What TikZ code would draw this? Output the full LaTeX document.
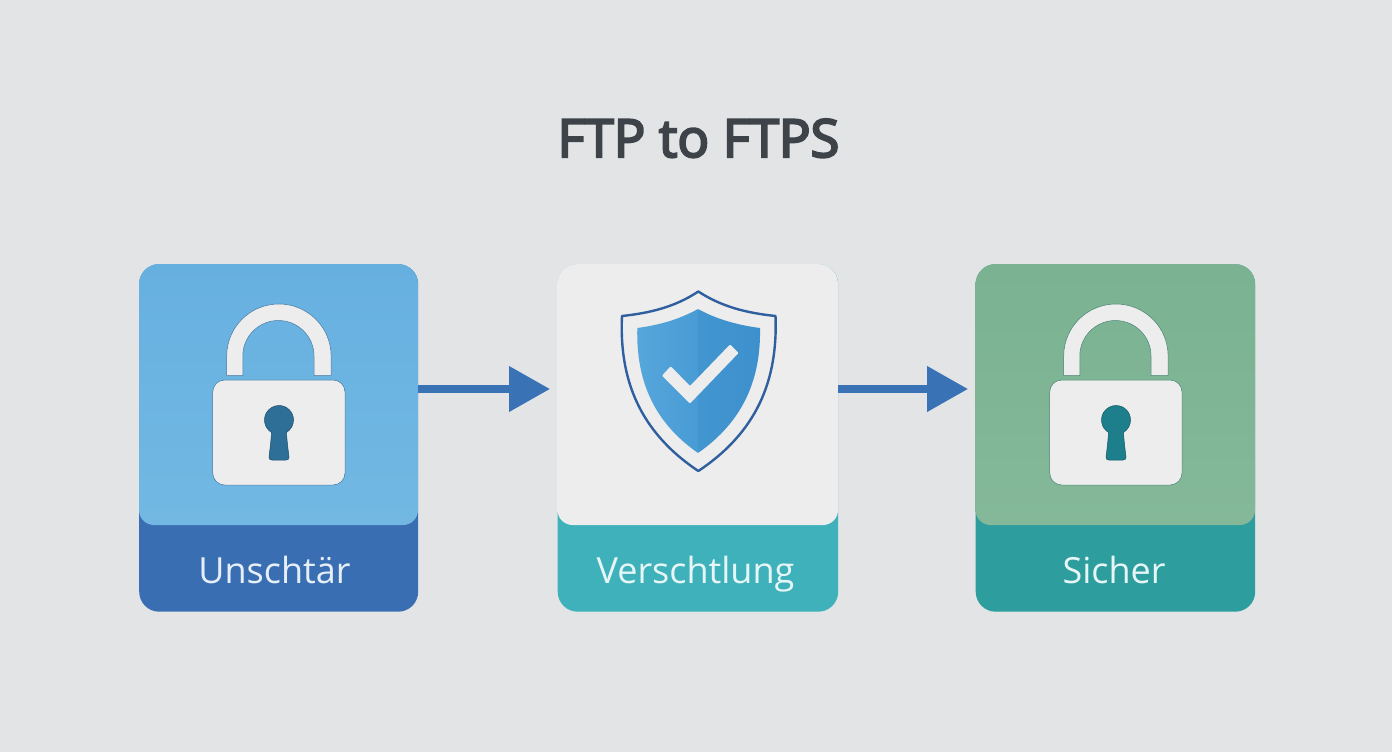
\documentclass[tikz,border=0pt]{standalone}
\usepackage{fontspec}
\setmainfont{Open Sans}
\usetikzlibrary{arrows.meta}
\definecolor{bgc}{HTML}{E3E4E5}
\definecolor{titlec}{HTML}{3D4349}
\definecolor{pale}{HTML}{EDEDEE}
\definecolor{arrowc}{HTML}{3A72B6}
\definecolor{shieldline}{HTML}{2F5F9E}
\definecolor{lowA}{HTML}{3A6EB2}
\definecolor{lowB}{HTML}{3EB1BB}
\definecolor{lowC}{HTML}{2D9D9E}
\definecolor{topAa}{HTML}{66B0E0}
\definecolor{topAb}{HTML}{72B8E3}
\definecolor{topCa}{HTML}{7AB292}
\definecolor{topCb}{HTML}{84B898}
\definecolor{keyA}{HTML}{2D6F97}
\definecolor{keyAl}{HTML}{4678A0}
\definecolor{keyC}{HTML}{1D7E8C}
\definecolor{keyCl}{HTML}{468273}
\definecolor{shLa}{HTML}{58A8DD}
\definecolor{shLb}{HTML}{489BD4}
\definecolor{shRa}{HTML}{4296D0}
\definecolor{shRb}{HTML}{3C8FCB}
\definecolor{txtA}{HTML}{E6EEF8}
\definecolor{txtB}{HTML}{E6F6F6}
\tikzset{
  cardbase/.style={minimum width=#1,minimum height=347.5pt,inner sep=0pt,rounded corners=20pt,anchor=north west},
  cardtext/.style={font=\fontsize{36}{40}\selectfont,anchor=base,inner sep=0pt,text=#1},
  flow/.style={draw=arrowc,line width=7.5pt,-{Triangle[length=41pt,width=44pt]},shorten >=7.5pt},
}
\newcommand{\toppanel}[5]{%
  \shade[top color=#4,bottom color=#5,rounded corners=20pt]
    (#1,264) -- (#2,264) [rounded corners=15pt] -- (#2,#3) -- (#1,#3) [rounded corners=20pt] -- cycle;}
\newcommand{\padlock}[3]{%
  \begin{scope}[shift={(#1,0)}]
    \filldraw[fill=pale,draw=#3,line width=.5pt,line join=round]
      (226.7,375.5) -- (226.7,356) arc[start angle=180,end angle=360,x radius=52.2,y radius=52]
      -- (331.1,375.5) -- (314,375.5) -- (314,356) arc[start angle=360,end angle=180,x radius=35.6,y radius=35.5]
      -- (242.8,375.5) -- cycle;
    \filldraw[fill=pale,draw=#3,line width=.5pt,rounded corners=12pt] (212.7,380) rectangle (345,485);
    \filldraw[fill=#2,draw=#2!70!black,line width=.5pt]
      (279,405.5) arc[start angle=-90,end angle=59,radius=14.5]
      .. controls (287,441) and (288,449) .. (289,457)
      .. controls (289.2,459) and (288,460) .. (286,460) -- (272,460)
      .. controls (270,460) and (268.8,459) .. (269,457)
      .. controls (270,449) and (271,441) .. (271.53,432.43)
      arc[start angle=121,end angle=270,radius=14.5] -- cycle;
  \end{scope}}
\begin{document}
\begin{tikzpicture}[x=1pt,y=-1pt]
\useasboundingbox (0,0) rectangle (1392,752);
\fill[bgc] (0,0) rectangle (1392,752);
\node[font=\fontsize{52.5}{56}\selectfont,text=titlec,anchor=base,inner sep=0pt] (title) at (698.5,157) {\special{pdf:code 2 Tr 2.2 w 0.239 0.263 0.286 RG}FTP to FTPS\special{pdf:code 0 Tr}};
\coordinate (flowy) at (0,389);
% cards
\node[cardbase=279pt,fill=lowA] (c1) at (139,264) {};
\node[cardbase=280.5pt,fill=lowB] (c2) at (557.5,264) {};
\node[cardbase=279.5pt,fill=lowC] (c3) at (975.5,264) {};
\toppanel{139}{418}{525}{topAa}{topAb}
\toppanel{557.5}{838}{525}{pale}{pale}
\toppanel{975.5}{1255}{525}{topCa}{topCb}
% locks
\padlock{0}{keyA}{keyAl}
\padlock{837}{keyC}{keyCl}
% shield
\draw[fill=pale,draw=shieldline,line width=2.4pt,line join=round]
  (698.3,291.5) .. controls (675,307) and (650,313) .. (622,316)
  .. controls (619,380) and (640,432) .. (698.3,471)
  .. controls (757,432) and (778,380) .. (775.5,316)
  .. controls (747,313) and (722,307) .. (698.3,291.5) -- cycle;
\begin{scope}
  \clip (698,309) .. controls (680,319) and (660,325) .. (637.3,328)
  .. controls (636,378) and (652,421) .. (698,453)
  .. controls (744,421) and (761,378) .. (760,328)
  .. controls (737,325) and (716,319) .. (698,309) -- cycle;
  \shade[left color=shLa,right color=shLb] (630,300) rectangle (698.3,460);
  \shade[left color=shRa,right color=shRb] (698.3,300) rectangle (770,460);
\end{scope}
\fill[pale,rounded corners=1pt] (662,375.7) -- (670.7,366.2) -- (690,386) -- (730,344.5) -- (738.5,353) -- (690,403.5) -- cycle;
% labels
\node[cardtext=txtA] (l1) at (274.5,583) {Unschtär};
\node[cardtext=txtB] (l2) at (695.5,583) {Verschtlung};
\node[cardtext=txtB] (l3) at (1114,583) {Sicher};
% connectors
\draw[flow] (c1.east |- flowy) -- (c2.west |- flowy);
\draw[flow] (c2.east |- flowy) -- (c3.west |- flowy);
\end{tikzpicture}
\end{document}
